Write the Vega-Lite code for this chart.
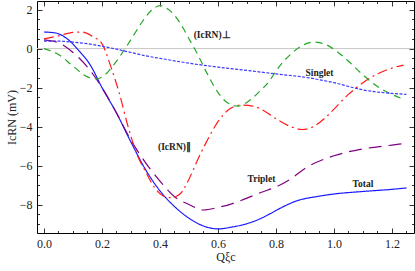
{
  "$schema": "https://vega.github.io/schema/vega-lite/v6.json",
  "width": 377,
  "height": 232,
  "autosize": {"type": "none"},
  "padding": {"left": 37, "top": 1, "right": 1, "bottom": 38},
  "background": "white",
  "config": {
    "view": {"stroke": "#000", "strokeWidth": 1},
    "font": "Liberation Serif",
    "axis": {
      "domain": false, "grid": false, "ticks": true, "tickColor": "#000", "tickWidth": 0.8,
      "labelFont": "Liberation Serif", "labelFontSize": 12, "labelColor": "#222",
      "titleFont": "Liberation Serif", "titleFontWeight": "normal", "titleFontSize": 12, "titleColor": "#222"
    }
  },
  "datasets": {
    "curves": [
      {"s": "Total", "x": 0.0, "y": 0.85}, {"s": "Total", "x": 0.04, "y": 0.8}, {"s": "Total", "x": 0.08, "y": 0.5},
      {"s": "Total", "x": 0.12, "y": -0.1}, {"s": "Total", "x": 0.16, "y": -0.85}, {"s": "Total", "x": 0.2, "y": -2.0},
      {"s": "Total", "x": 0.25, "y": -3.3}, {"s": "Total", "x": 0.3, "y": -4.8}, {"s": "Total", "x": 0.35, "y": -6.2},
      {"s": "Total", "x": 0.4, "y": -7.3}, {"s": "Total", "x": 0.45, "y": -8.1}, {"s": "Total", "x": 0.5, "y": -8.7},
      {"s": "Total", "x": 0.55, "y": -9.1}, {"s": "Total", "x": 0.6, "y": -9.25}, {"s": "Total", "x": 0.65, "y": -9.15},
      {"s": "Total", "x": 0.7, "y": -8.98}, {"s": "Total", "x": 0.75, "y": -8.7}, {"s": "Total", "x": 0.78, "y": -8.47},
      {"s": "Total", "x": 0.82, "y": -8.15}, {"s": "Total", "x": 0.87, "y": -7.82}, {"s": "Total", "x": 0.95, "y": -7.57},
      {"s": "Total", "x": 1.0, "y": -7.46}, {"s": "Total", "x": 1.1, "y": -7.33}, {"s": "Total", "x": 1.2, "y": -7.22},
      {"s": "Total", "x": 1.25, "y": -7.15},

      {"s": "Triplet", "x": 0.0, "y": 0.45}, {"s": "Triplet", "x": 0.05, "y": 0.3}, {"s": "Triplet", "x": 0.1, "y": -0.2},
      {"s": "Triplet", "x": 0.15, "y": -0.95}, {"s": "Triplet", "x": 0.2, "y": -2.0}, {"s": "Triplet", "x": 0.25, "y": -3.3},
      {"s": "Triplet", "x": 0.3, "y": -4.7}, {"s": "Triplet", "x": 0.35, "y": -5.85}, {"s": "Triplet", "x": 0.4, "y": -6.8},
      {"s": "Triplet", "x": 0.45, "y": -7.6}, {"s": "Triplet", "x": 0.5, "y": -8.0}, {"s": "Triplet", "x": 0.55, "y": -8.28},
      {"s": "Triplet", "x": 0.6, "y": -8.15}, {"s": "Triplet", "x": 0.65, "y": -7.95}, {"s": "Triplet", "x": 0.7, "y": -7.67},
      {"s": "Triplet", "x": 0.75, "y": -7.37}, {"s": "Triplet", "x": 0.8, "y": -7.1}, {"s": "Triplet", "x": 0.85, "y": -6.7},
      {"s": "Triplet", "x": 0.9, "y": -6.15}, {"s": "Triplet", "x": 1.0, "y": -5.5}, {"s": "Triplet", "x": 1.1, "y": -5.15},
      {"s": "Triplet", "x": 1.2, "y": -4.95}, {"s": "Triplet", "x": 1.25, "y": -4.85},

      {"s": "Parallel", "x": 0.0, "y": 0.5}, {"s": "Parallel", "x": 0.05, "y": 0.65}, {"s": "Parallel", "x": 0.1, "y": 0.83},
      {"s": "Parallel", "x": 0.13, "y": 0.85}, {"s": "Parallel", "x": 0.17, "y": 0.6}, {"s": "Parallel", "x": 0.2, "y": 0.25},
      {"s": "Parallel", "x": 0.23, "y": -0.9}, {"s": "Parallel", "x": 0.26, "y": -2.3}, {"s": "Parallel", "x": 0.29, "y": -4.0},
      {"s": "Parallel", "x": 0.32, "y": -5.4}, {"s": "Parallel", "x": 0.35, "y": -6.3}, {"s": "Parallel", "x": 0.38, "y": -7.1},
      {"s": "Parallel", "x": 0.41, "y": -7.55}, {"s": "Parallel", "x": 0.44, "y": -7.65}, {"s": "Parallel", "x": 0.47, "y": -7.45},
      {"s": "Parallel", "x": 0.5, "y": -6.7}, {"s": "Parallel", "x": 0.53, "y": -5.7}, {"s": "Parallel", "x": 0.56, "y": -4.8},
      {"s": "Parallel", "x": 0.6, "y": -3.75}, {"s": "Parallel", "x": 0.64, "y": -3.1}, {"s": "Parallel", "x": 0.68, "y": -2.9},
      {"s": "Parallel", "x": 0.72, "y": -2.95}, {"s": "Parallel", "x": 0.76, "y": -3.2}, {"s": "Parallel", "x": 0.8, "y": -3.6},
      {"s": "Parallel", "x": 0.85, "y": -4.0}, {"s": "Parallel", "x": 0.89, "y": -4.15}, {"s": "Parallel", "x": 0.93, "y": -4.0},
      {"s": "Parallel", "x": 0.97, "y": -3.55}, {"s": "Parallel", "x": 1.01, "y": -2.95}, {"s": "Parallel", "x": 1.05, "y": -2.35},
      {"s": "Parallel", "x": 1.1, "y": -1.75}, {"s": "Parallel", "x": 1.15, "y": -1.3}, {"s": "Parallel", "x": 1.2, "y": -1.0},
      {"s": "Parallel", "x": 1.24, "y": -0.85},

      {"s": "Perp", "x": 0.0, "y": 0.0}, {"s": "Perp", "x": 0.05, "y": -0.3}, {"s": "Perp", "x": 0.1, "y": -0.9},
      {"s": "Perp", "x": 0.15, "y": -1.45}, {"s": "Perp", "x": 0.18, "y": -1.55}, {"s": "Perp", "x": 0.21, "y": -1.35},
      {"s": "Perp", "x": 0.24, "y": -0.85}, {"s": "Perp", "x": 0.28, "y": 0.0}, {"s": "Perp", "x": 0.31, "y": 0.7},
      {"s": "Perp", "x": 0.34, "y": 1.4}, {"s": "Perp", "x": 0.37, "y": 1.95}, {"s": "Perp", "x": 0.4, "y": 2.2},
      {"s": "Perp", "x": 0.43, "y": 2.0}, {"s": "Perp", "x": 0.47, "y": 1.3}, {"s": "Perp", "x": 0.5, "y": 0.5},
      {"s": "Perp", "x": 0.53, "y": -0.3}, {"s": "Perp", "x": 0.56, "y": -1.2}, {"s": "Perp", "x": 0.6, "y": -2.25},
      {"s": "Perp", "x": 0.63, "y": -2.75}, {"s": "Perp", "x": 0.67, "y": -2.95}, {"s": "Perp", "x": 0.71, "y": -2.65},
      {"s": "Perp", "x": 0.74, "y": -2.25}, {"s": "Perp", "x": 0.77, "y": -1.8}, {"s": "Perp", "x": 0.81, "y": -0.95},
      {"s": "Perp", "x": 0.85, "y": -0.3}, {"s": "Perp", "x": 0.89, "y": 0.15}, {"s": "Perp", "x": 0.93, "y": 0.33},
      {"s": "Perp", "x": 0.97, "y": 0.22}, {"s": "Perp", "x": 1.01, "y": -0.15}, {"s": "Perp", "x": 1.05, "y": -0.65},
      {"s": "Perp", "x": 1.1, "y": -1.35}, {"s": "Perp", "x": 1.15, "y": -1.95}, {"s": "Perp", "x": 1.2, "y": -2.35},
      {"s": "Perp", "x": 1.24, "y": -2.6},

      {"s": "Singlet", "x": 0.0, "y": 0.38}, {"s": "Singlet", "x": 0.05, "y": 0.38}, {"s": "Singlet", "x": 0.1, "y": 0.33},
      {"s": "Singlet", "x": 0.15, "y": 0.25}, {"s": "Singlet", "x": 0.2, "y": 0.12}, {"s": "Singlet", "x": 0.25, "y": -0.03},
      {"s": "Singlet", "x": 0.3, "y": -0.2}, {"s": "Singlet", "x": 0.35, "y": -0.37}, {"s": "Singlet", "x": 0.4, "y": -0.5},
      {"s": "Singlet", "x": 0.5, "y": -0.75}, {"s": "Singlet", "x": 0.6, "y": -0.95}, {"s": "Singlet", "x": 0.7, "y": -1.12},
      {"s": "Singlet", "x": 0.8, "y": -1.3}, {"s": "Singlet", "x": 0.9, "y": -1.47}, {"s": "Singlet", "x": 1.0, "y": -1.75},
      {"s": "Singlet", "x": 1.1, "y": -2.12}, {"s": "Singlet", "x": 1.2, "y": -2.3}, {"s": "Singlet", "x": 1.25, "y": -2.35}
    ],
    "labels": [
      {"t": "(IcRN)⊥", "x": 0.58, "y": 0.69},
      {"t": "(IcRN)∥", "x": 0.45, "y": -5.05},
      {"t": "Triplet", "x": 0.75, "y": -6.7},
      {"t": "Total", "x": 1.1, "y": -6.95},
      {"t": "Singlet", "x": 0.95, "y": -1.26}
    ]
  },
  "layer": [
    {
      "data": {"values": [{"a": 1}]},
      "mark": {"type": "rule", "color": "#c8c8c8", "strokeWidth": 1, "clip": true},
      "encoding": {
        "x": {"datum": -0.1, "type": "quantitative",
              "scale": {"domain": [-0.024, 1.276], "nice": false, "zero": false},
              "axis": {"orient": "top", "labels": false, "title": null,
                       "values": [0,0.05,0.1,0.15,0.2,0.25,0.3,0.35,0.4,0.45,0.5,0.55,0.6,0.65,0.7,0.75,0.8,0.85,0.9,0.95,1.0,1.05,1.1,1.15,1.2,1.25],
                       "tickSize": {"condition": {"test": "abs(datum.value*5 - round(datum.value*5)) < 0.001", "value": -5}, "value": -2.5}}},
        "x2": {"datum": 1.4},
        "y": {"datum": 0, "type": "quantitative",
              "scale": {"domain": [-9.46, 2.44], "nice": false, "zero": false},
              "axis": {"orient": "right", "labels": false, "title": null,
                       "values": [-9,-8.5,-8,-7.5,-7,-6.5,-6,-5.5,-5,-4.5,-4,-3.5,-3,-2.5,-2,-1.5,-1,-0.5,0,0.5,1,1.5,2],
                       "tickSize": {"condition": {"test": "abs(datum.value/2 - round(datum.value/2)) < 0.001", "value": -5}, "value": -2.5}}}
      }
    },
    {
      "data": {"name": "curves"},
      "mark": {"type": "line", "interpolate": "monotone", "strokeWidth": 1.2, "clip": true},
      "encoding": {
        "x": {"field": "x", "type": "quantitative",
              "scale": {"domain": [-0.024, 1.276], "nice": false, "zero": false},
              "axis": {"orient": "bottom", "title": "Qξc", "titlePadding": 2,
                       "values": [0,0.05,0.1,0.15,0.2,0.25,0.3,0.35,0.4,0.45,0.5,0.55,0.6,0.65,0.7,0.75,0.8,0.85,0.9,0.95,1.0,1.05,1.1,1.15,1.2,1.25],
                       "labelExpr": "abs(datum.value*5 - round(datum.value*5)) < 0.001 ? format(datum.value, '.1f') : ''",
                       "labelPadding": 10,
                       "tickSize": {"condition": {"test": "abs(datum.value*5 - round(datum.value*5)) < 0.001", "value": -5}, "value": -2.5}}},
        "y": {"field": "y", "type": "quantitative",
              "scale": {"domain": [-9.46, 2.44], "nice": false, "zero": false},
              "axis": {"orient": "left", "title": "IcRN (mV)",
                       "titleX": -26, "titleY": 116, "titleAngle": -90, "titleAlign": "center", "titleBaseline": "middle",
                       "values": [-9,-8.5,-8,-7.5,-7,-6.5,-6,-5.5,-5,-4.5,-4,-3.5,-3,-2.5,-2,-1.5,-1,-0.5,0,0.5,1,1.5,2],
                       "labelExpr": "abs(datum.value/2 - round(datum.value/2)) < 0.001 ? (datum.value < 0 ? '−' + format(-datum.value, 'd') : format(datum.value, 'd')) : ''",
                       "labelPadding": 10,
                       "tickSize": {"condition": {"test": "abs(datum.value/2 - round(datum.value/2)) < 0.001", "value": -5}, "value": -2.5}}},
        "color": {"field": "s", "type": "nominal", "legend": null,
                  "scale": {"domain": ["Total", "Triplet", "Parallel", "Perp", "Singlet"],
                            "range": ["#1a1aff", "#800080", "#ff1a1a", "#22a822", "#3a3aff"]}},
        "strokeDash": {"field": "s", "type": "nominal", "legend": null,
                       "scale": {"domain": ["Total", "Triplet", "Parallel", "Perp", "Singlet"],
                                 "range": [[1, 0], [13, 7], [10, 4, 2, 4], [7, 5], [3, 1.5]]}}
      }
    },
    {
      "data": {"name": "labels"},
      "mark": {"type": "text", "font": "Liberation Serif", "fontWeight": "bold", "fontSize": 9.5, "color": "#222"},
      "encoding": {
        "x": {"field": "x", "type": "quantitative", "axis": null,
              "scale": {"domain": [-0.024, 1.276], "nice": false, "zero": false}},
        "y": {"field": "y", "type": "quantitative", "axis": null,
              "scale": {"domain": [-9.46, 2.44], "nice": false, "zero": false}},
        "text": {"field": "t"}
      }
    }
  ],
  "resolve": {"axis": {"x": "independent", "y": "independent"}}
}
